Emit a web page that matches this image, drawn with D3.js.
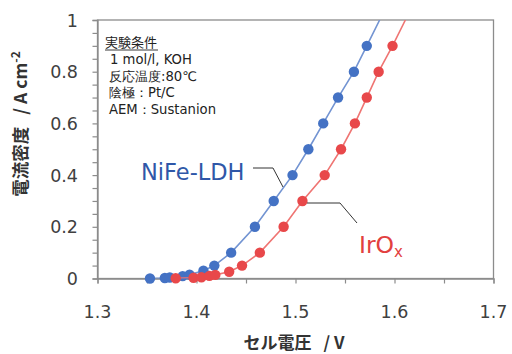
<!DOCTYPE html>
<html><head><meta charset="utf-8">
<script src="https://cdn.jsdelivr.net/npm/d3@7/dist/d3.min.js"></script>
<style>body{margin:0;background:#fff}svg{display:block}</style>
</head><body><svg id="c" width="512" height="354"></svg>
<script>
// Data
const nifeV = [1.353,1.368,1.373,1.386,1.393,1.407,1.418,1.435,1.459,1.478,1.497,1.513,1.528,1.543,1.559,1.572,1.585];
const nifeJ = [0.000,0.002,0.004,0.009,0.015,0.030,0.050,0.100,0.200,0.300,0.400,0.500,0.600,0.700,0.800,0.900,1.000];
const iroxV = [1.379,1.397,1.405,1.413,1.419,1.433,1.446,1.464,1.488,1.507,1.5295,1.546,1.560,1.572,1.584,1.598,1.611];
const iroxJ = [0.001,0.003,0.005,0.010,0.014,0.026,0.050,0.100,0.200,0.300,0.400,0.500,0.600,0.700,0.800,0.900,1.000];
const xTicks = [1.3,1.4,1.5,1.6,1.7];
const yTicks = [0,0.2,0.4,0.6,0.8,1];
const noteLines = ["1 mol/l, KOH","反応温度:80℃","陰極：Pt/C","AEM：Sustanion"];

const svg = d3.select("#c");
const L=97.5, R=493.5, T=20, B=278.5;
const x = d3.scaleLinear().domain([1.3,1.7]).range([L,R]);
const y = d3.scaleLinear().domain([0,1]).range([B,T]);
const font = "'DejaVu Sans', Verdana, sans-serif";
const cjk = "'Noto Sans CJK JP', sans-serif";

svg.append("defs").append("clipPath").attr("id","pc")
  .append("rect").attr("x",L).attr("y",T).attr("width",R-L).attr("height",B-T);

// frame
svg.append("rect").attr("x",L).attr("y",T).attr("width",R-L).attr("height",B-T)
  .attr("fill","none").attr("stroke","#8c8c8c").attr("stroke-width",1.3);

// axes
const xa = svg.append("g").attr("transform",`translate(0,${B})`)
  .call(d3.axisBottom(x).tickValues(d3.range(1.3,1.7001,0.05)).tickSize(5).tickFormat(""));
const ya = svg.append("g").attr("transform",`translate(${L},0)`)
  .call(d3.axisLeft(y).tickValues(d3.range(0,1.0001,0.05)).tickSize(5).tickFormat(""));
[xa,ya].forEach(g=>{g.selectAll("path").attr("stroke","#8c8c8c").attr("stroke-width",1.3);
  g.selectAll("line").attr("stroke","#8c8c8c").attr("stroke-width",1.2);});

svg.append("g").selectAll("text").data(xTicks).join("text")
  .attr("x",d=>x(d)).attr("y",318).attr("text-anchor","middle")
  .attr("font-family",font).attr("font-size",17.5).attr("fill","#404040")
  .text(d=>d3.format(".1f")(d));
svg.append("g").selectAll("text").data(yTicks).join("text")
  .attr("x",78).attr("y",d=>y(d)+6.5).attr("text-anchor","end")
  .attr("font-family",font).attr("font-size",17.5).attr("fill","#404040")
  .text(d=>d===0||d===1?d:d3.format(".1f")(d));

// axis titles
const xt = svg.append("text").attr("x",294).attr("y",349).attr("text-anchor","middle")
  .attr("font-family",cjk).attr("font-weight","bold").attr("font-size",17).attr("fill","#333");
xt.append("tspan").text("セル電圧");
xt.append("tspan").attr("dx",12).text("/ V");
const yt = svg.append("text").attr("transform","translate(27,124) rotate(-90)")
  .attr("text-anchor","middle").attr("font-family",cjk).attr("font-weight","bold")
  .attr("font-size",17.5).attr("fill","#333");
yt.append("tspan").text("電流密度");
yt.append("tspan").attr("dx",12).text("/ A cm");
yt.append("tspan").attr("font-size",12).attr("dy",-7).text("-2");

// series
const series = [
  {V:nifeV,J:nifeJ,line:"#7394d2",mark:"#4472c4"},
  {V:iroxV,J:iroxJ,line:"#ef7573",mark:"#e8484a"}
];
const lineGen = d3.line().x(d=>x(d[0])).y(d=>y(d[1]));
series.forEach(s=>{
  const pts = s.V.map((v,i)=>[v,s.J[i]]);
  svg.append("path").datum(pts).attr("d",lineGen).attr("clip-path","url(#pc)")
    .attr("fill","none").attr("stroke",s.line).attr("stroke-width",1.6);
  svg.append("g").selectAll("circle").data(pts.filter(p=>p[1]<0.95)).join("circle")
    .attr("cx",d=>x(d[0])).attr("cy",d=>y(d[1])).attr("r",5.2).attr("fill",s.mark);
});

// note
svg.append("text").attr("x",105).attr("y",47).attr("font-family",cjk).attr("font-size",13)
  .attr("fill","#222").text("実験条件");
svg.append("line").attr("x1",105).attr("x2",158).attr("y1",50).attr("y2",50).attr("stroke","#222").attr("stroke-width",0.9);
svg.append("g").selectAll("text").data(noteLines).join("text")
  .attr("x",(d,i)=>i===0?110:109).attr("y",(d,i)=>64+i*16.6)
  .attr("font-family",font).attr("font-size",13.2).attr("fill","#222").text(d=>d);

// labels
svg.append("text").attr("x",141).attr("y",180).attr("font-family",font).attr("font-size",22.5)
  .attr("fill","#2f57a8").text("NiFe-LDH");
svg.append("path").attr("d",`M253,168 L273,168 L283,187`).attr("fill","none").attr("stroke","#333").attr("stroke-width",1);
const ir = svg.append("text").attr("x",359).attr("y",253).attr("font-family",font).attr("font-size",23.5)
  .attr("fill","#e2403f");
ir.append("tspan").text("IrO");
ir.append("tspan").attr("font-size",15).attr("dy",4).text("x");
svg.append("path").attr("d",`M307,203 L340,203 L357,223`).attr("fill","none").attr("stroke","#333").attr("stroke-width",1);
</script></body></html>
